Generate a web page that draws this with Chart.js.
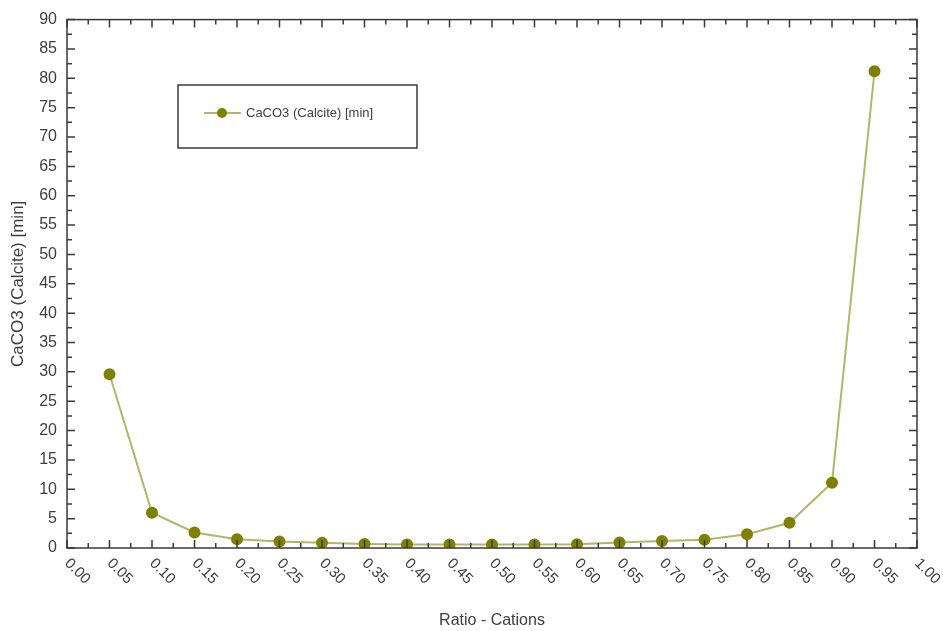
<!DOCTYPE html>
<html>
<head>
<meta charset="utf-8">
<title>CaCO3 (Calcite) vs Ratio - Cations</title>
<script src="https://cdn.jsdelivr.net/npm/chart.js@4/dist/chart.umd.min.js"></script>
<style>
    html, body { margin: 0; padding: 0; background: #ffffff; }
    #wrap { width: 943px; height: 631px; }
</style>
</head>
<body>
<div id="wrap"><canvas id="calciteChart" width="943" height="631"></canvas></div>
<script>
// Series data
const ratioCations = [0.05, 0.10, 0.15, 0.20, 0.25, 0.30, 0.35, 0.40, 0.45, 0.50,
                      0.55, 0.60, 0.65, 0.70, 0.75, 0.80, 0.85, 0.90, 0.95];
const calciteMin = [29.6, 6.0, 2.65, 1.5, 1.1, 0.9, 0.7, 0.6, 0.6, 0.6,
                    0.6, 0.65, 0.95, 1.2, 1.4, 2.35, 4.3, 11.1, 81.2];
const xTickLabels = ['0.00', '0.05', '0.10', '0.15', '0.20', '0.25', '0.30', '0.35', '0.40', '0.45', '0.50',
                     '0.55', '0.60', '0.65', '0.70', '0.75', '0.80', '0.85', '0.90', '0.95', '1.00'];

const seriesLabel = 'CaCO3 (Calcite) [min]';
const markerColor = '#808000';
const lineColor = '#b4b46c';
const inkColor = '#3d3d45';
const fontFamily = '"Liberation Sans", Arial, sans-serif';

// Box frame, inward ticks, slanted x labels and the legend
const framePlugin = {
    id: 'framePlugin',
    afterDraw(chart) {
        const ctx = chart.ctx;
        const area = chart.chartArea;
        const xs = chart.scales.x;
        const ys = chart.scales.y;

        ctx.save();
        ctx.strokeStyle = '#3a3a3a';
        ctx.lineWidth = 1.5;
        ctx.strokeRect(area.left, area.top, area.right - area.left, area.bottom - area.top);

        ctx.lineWidth = 1.5;
        ctx.beginPath();
        // x ticks, every 0.025 (major each 0.05)
        for (let i = 0; i <= 40; i++) {
            const px = xs.getPixelForValue(i * 0.025);
            const len = i % 2 === 0 ? 8 : 5;
            ctx.moveTo(px, area.bottom);
            ctx.lineTo(px, area.bottom - len);
            ctx.moveTo(px, area.top);
            ctx.lineTo(px, area.top + len);
        }
        // y ticks, every 2.5 (major each 5)
        for (let i = 0; i <= 36; i++) {
            const py = ys.getPixelForValue(i * 2.5);
            const len = i % 2 === 0 ? 8 : 5;
            ctx.moveTo(area.left, py);
            ctx.lineTo(area.left + len, py);
            ctx.moveTo(area.right, py);
            ctx.lineTo(area.right - len, py);
        }
        ctx.stroke();

        // slanted x labels hanging from each major tick
        ctx.fillStyle = inkColor;
        ctx.font = '15px ' + fontFamily;
        ctx.textAlign = 'left';
        ctx.textBaseline = 'middle';
        xTickLabels.forEach(label => {
            const px = xs.getPixelForValue(parseFloat(label));
            ctx.save();
            ctx.translate(px, area.bottom + 13);
            ctx.rotate(Math.PI / 4);
            ctx.fillText(label, 0, 0);
            ctx.restore();
        });

        // legend box
        const ds = chart.data.datasets[0];
        ctx.strokeStyle = '#3a3a3a';
        ctx.lineWidth = 1.5;
        ctx.strokeRect(178, 85, 239, 63);
        ctx.strokeStyle = ds.borderColor;
        ctx.lineWidth = 2;
        ctx.beginPath();
        ctx.moveTo(204, 113);
        ctx.lineTo(241, 113);
        ctx.stroke();
        ctx.fillStyle = ds.pointBackgroundColor;
        ctx.beginPath();
        ctx.arc(222, 113, 5, 0, Math.PI * 2);
        ctx.fill();
        ctx.fillStyle = inkColor;
        ctx.font = '13px ' + fontFamily;
        ctx.fillText(ds.label, 246, 113);
        ctx.restore();
    }
};

function initializeChart() {
    const ctx = document.getElementById('calciteChart').getContext('2d');
    const points = ratioCations.map((r, i) => ({ x: r, y: calciteMin[i] }));

    return new Chart(ctx, {
        type: 'line',
        data: {
            datasets: [{
                label: seriesLabel,
                data: points,
                borderColor: lineColor,
                borderWidth: 2,
                pointBackgroundColor: markerColor,
                pointBorderColor: markerColor,
                pointRadius: 5,
                tension: 0
            }]
        },
        options: {
            responsive: false,
            animation: false,
            layout: { padding: { top: 16, right: 26, bottom: 0, left: 0 } },
            plugins: {
                legend: { display: false },
                tooltip: { enabled: false }
            },
            scales: {
                x: {
                    type: 'linear',
                    min: 0,
                    max: 1,
                    grid: { display: false, drawTicks: false },
                    border: { display: false },
                    ticks: { display: false },
                    title: {
                        display: true,
                        text: 'Ratio - Cations',
                        color: inkColor,
                        font: { family: fontFamily, size: 16, lineHeight: 1.25 },
                        padding: { top: 0, bottom: 0 }
                    },
                    afterFit(scale) { scale.height = 83; }
                },
                y: {
                    min: 0,
                    max: 90,
                    grid: { display: false, drawTicks: false },
                    border: { display: false },
                    ticks: {
                        stepSize: 5,
                        padding: 10,
                        color: inkColor,
                        font: { family: fontFamily, size: 16 }
                    },
                    title: {
                        display: true,
                        text: seriesLabel,
                        color: inkColor,
                        font: { family: fontFamily, size: 17, lineHeight: 1.2 },
                        padding: { top: 8, bottom: 0 }
                    },
                    afterFit(scale) { scale.width = 67; }
                }
            }
        },
        plugins: [framePlugin]
    });
}

document.addEventListener('DOMContentLoaded', initializeChart);
</script>
</body>
</html>
